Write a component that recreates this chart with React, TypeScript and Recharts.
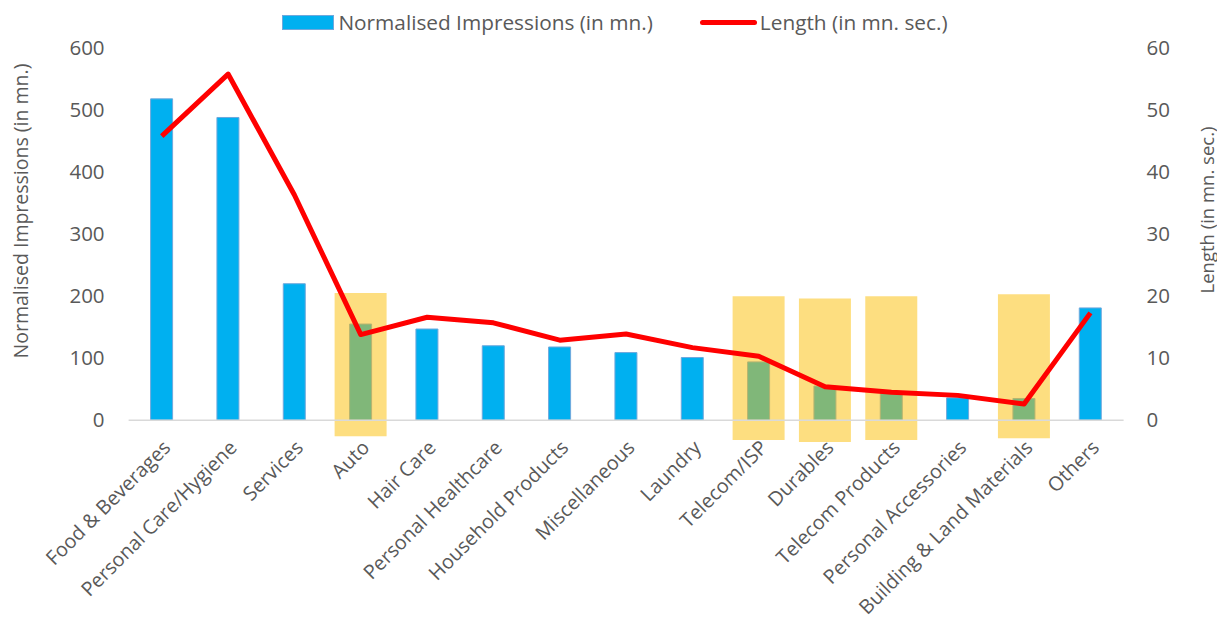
import React from 'react';
import {
  ComposedChart, Bar, Line, XAxis, YAxis, ReferenceLine, Legend,
} from 'recharts';

const categories = [
  'Food & Beverages', 'Personal Care/Hygiene', 'Services', 'Auto', 'Hair Care',
  'Personal Healthcare', 'Household Products', 'Miscellaneous', 'Laundry', 'Telecom/ISP',
  'Durables', 'Telecom Products', 'Personal Accessories', 'Building & Land Materials', 'Others',
];
const impressions = [518, 488, 220, 155, 147, 120, 118, 109, 101, 94, 55, 43, 36, 35, 181];
const lengths = [45.8, 55.8, 36.3, 13.8, 16.6, 15.7, 12.9, 13.9, 11.7, 10.3, 5.4, 4.5, 4.0, 2.6, 17.3];
// highlight boxes drawn over some categories: [bottom, top] on the left axis
const highlightLow = [null, null, null, -26, null, null, null, null, null, -32, -35, -32, null, -29, null];
const highlightHigh = [null, null, null, 205, null, null, null, null, null, 200, 196, 200, null, 203, null];
const leftTicks = [0, 100, 200, 300, 400, 500, 600];
const rightTicks = [0, 10, 20, 30, 40, 50, 60];

const data = categories.map((name, i) => ({
  name,
  impressions: impressions[i],
  length: lengths[i],
  highlight: highlightLow[i] === null ? null : [highlightLow[i], highlightHigh[i]],
}));

const FONT = '"Open Sans", sans-serif';
const GRAY = '#595959';

const renderLegend = () => (
  <div style={{ display: 'flex', justifyContent: 'center', alignItems: 'center', height: 28, paddingLeft: 13, fontFamily: FONT, fontSize: 20.8, color: GRAY }}>
    <span style={{ display: 'inline-block', width: 52, height: 15, background: '#00B0F0', border: '1px solid #6FA8DC', boxSizing: 'border-box', marginRight: 4 }} />
    <span>Normalised Impressions (in mn.)</span>
    <span style={{ display: 'inline-block', width: 57, height: 5, background: '#FF0000', borderRadius: 3, marginLeft: 47, marginRight: 3 }} />
    <span>Length (in mn. sec.)</span>
  </div>
);

export default function App() {
  return (
    <div style={{ position: 'absolute', left: 0, top: 0 }}>
      <ComposedChart
        width={1217}
        height={627}
        data={data}
        margin={{ top: 20, right: 0, left: 0, bottom: 12 }}
        barGap={0}
      >
        <Legend verticalAlign="top" content={renderLegend} wrapperStyle={{ top: 8, left: 0, width: 1217, height: 28 }} />
        <XAxis
          dataKey="name"
          axisLine={false}
          tickLine={false}
          interval={0}
          height={170}
          angle={-45}
          textAnchor="end"
          tick={{ fontSize: 19.8, fill: GRAY, fontFamily: FONT }}
          tickMargin={-12}
        />
        <XAxis xAxisId="hl" dataKey="name" hide />
        <YAxis
          yAxisId="left"
          domain={[-40, 600]}
          ticks={leftTicks}
          allowDataOverflow
          width={128.6}
          axisLine={false}
          tickLine={false}
          tickMargin={18}
          tick={{ fontSize: 20.5, fill: GRAY, fontFamily: FONT }}
          label={{
            content: () => (
              <text x={20} y={211} transform="rotate(-90 20 211)" textAnchor="middle" dominantBaseline="central"
                fontSize={19.5} fill={GRAY} fontFamily={FONT}>Normalised Impressions (in mn.)</text>
            ),
          }}
        />
        <YAxis
          yAxisId="right"
          orientation="right"
          domain={[-4, 60]}
          ticks={rightTicks}
          allowDataOverflow
          width={93.4}
          axisLine={false}
          tickLine={false}
          tickMargin={17}
          tick={{ fontSize: 20.5, fill: GRAY, fontFamily: FONT }}
          label={{
            content: () => (
              <text x={1206} y={210} transform="rotate(-90 1206 210)" textAnchor="middle" dominantBaseline="central"
                fontSize={18.5} fill={GRAY} fontFamily={FONT}>Length (in mn. sec.)</text>
            ),
          }}
        />
        <ReferenceLine yAxisId="left" y={0} stroke="#D9D9D9" strokeWidth={1.5} />
        <Bar yAxisId="left" dataKey="impressions" fill="#00B0F0" stroke="#6FA8DC" strokeWidth={1} barSize={22} isAnimationActive={false} />
        <Line yAxisId="right" dataKey="length" stroke="#FF0000" strokeWidth={5} dot={false} activeDot={false} isAnimationActive={false} strokeLinejoin="round" />
        <Bar yAxisId="left" xAxisId="hl" dataKey="highlight" fill="#FBBE06" fillOpacity={0.51} barSize={52} isAnimationActive={false} />
      </ComposedChart>
    </div>
  );
}
